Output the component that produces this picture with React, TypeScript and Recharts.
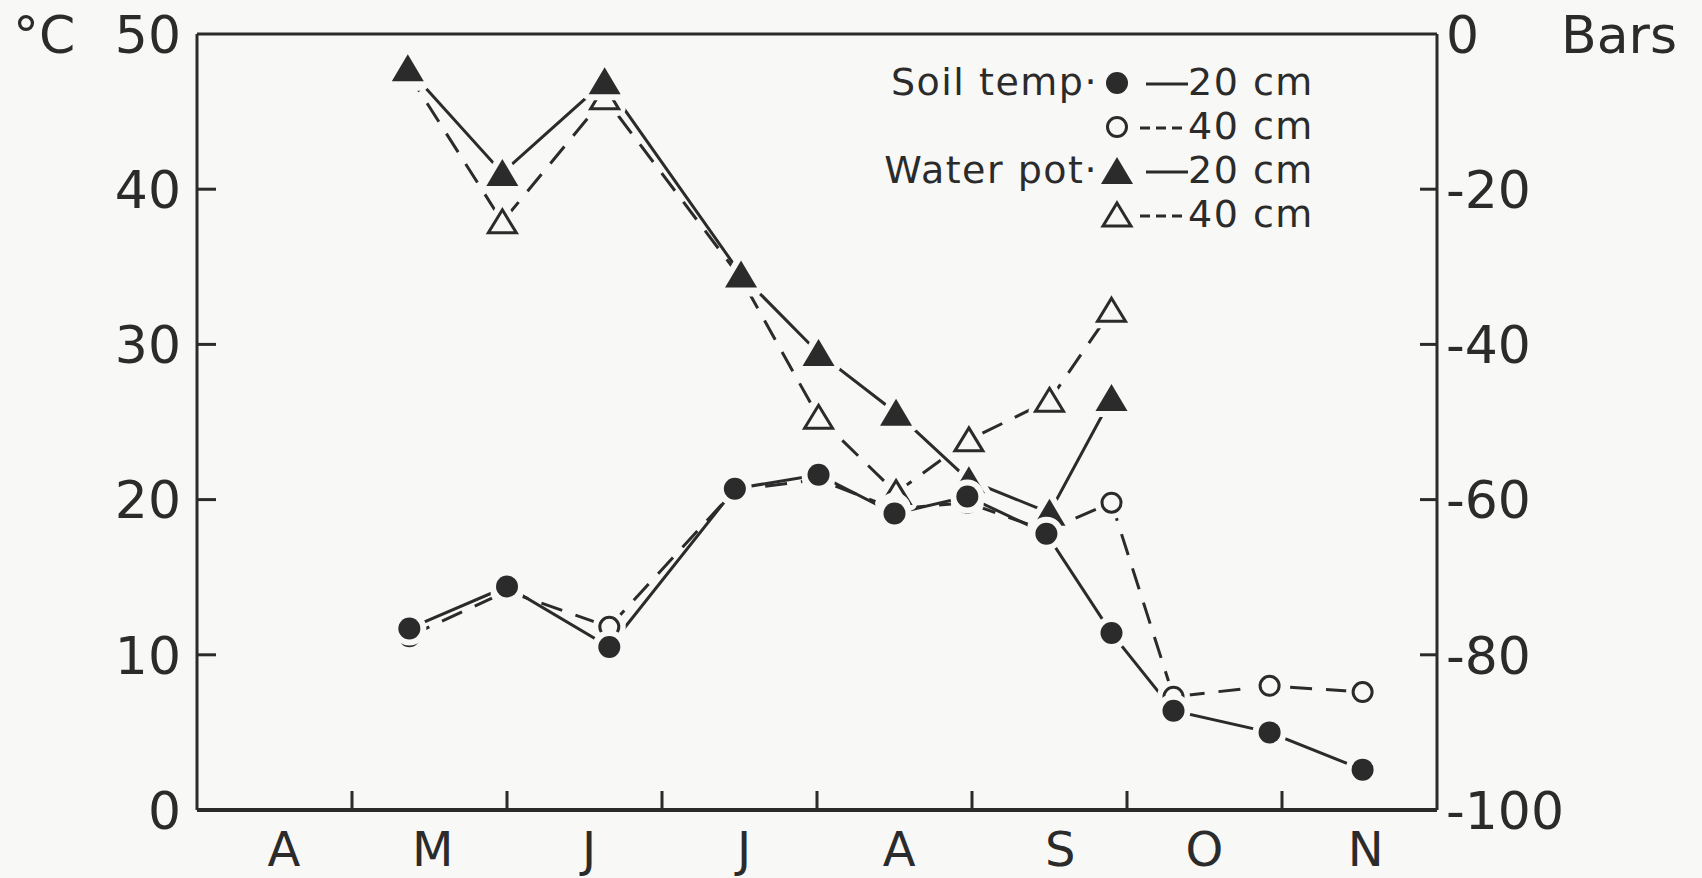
import { LineChart, Line, XAxis, YAxis, ReferenceLine, Legend } from "recharts";

const INK = "#2b2b2b";
const PAPER = "#f8f8f6";
const FONT = "'DejaVu Sans', 'Liberation Sans', sans-serif";

// x is measured in months from 1 April
const monthLabels = ["A", "M", "J", "J", "A", "S", "O", "N"];
const monthCentres = [0.56, 1.52, 2.53, 3.53, 4.53, 5.57, 6.5, 7.54];
const monthBounds = [1, 2, 3, 4, 5, 6, 7];
const tempTicks = [0, 10, 20, 30, 40, 50];
const barsTicks = [-100, -80, -60, -40, -20, 0];

const soilDates = [1.37, 2.0, 2.66, 3.47, 4.01, 4.5, 4.97, 5.48, 5.9, 6.3, 6.92, 7.52];
const soilTemp20 = [11.7, 14.4, 10.5, 20.7, 21.6, 19.1, 20.2, 17.8, 11.4, 6.4, 5.0, 2.6];
const soilTemp40 = [11.2, 14.1, 11.8, 20.6, 21.3, 19.4, 19.8, 18.0, 19.8, 7.3, 8.0, 7.6];

const waterDates = [1.36, 1.97, 2.63, 3.51, 4.01, 4.51, 4.98, 5.5, 5.9];
const waterPot20 = [-4.4, -17.9, -6.1, -31.0, -41.1, -48.8, -57.5, -61.7, -46.9];
const waterPot40 = [-5.0, -24.2, -8.2, -31.5, -49.4, -59.1, -52.3, -47.2, -35.6];

const soilData = soilDates.map((m, i) => ({ m, t20: soilTemp20[i], t40: soilTemp40[i] }));
const waterData = waterDates.map((m, i) => ({ m, w20: waterPot20[i], w40: waterPot40[i] }));
const xTicks = [...monthCentres, ...monthBounds].sort((a, b) => a - b);

const legendRows = [
  { group: "Soil temp·", depth: "20 cm", marker: "filledCircle", dashed: false },
  { group: "", depth: "40 cm", marker: "openCircle", dashed: true },
  { group: "Water pot·", depth: "20 cm", marker: "filledTriangle", dashed: false },
  { group: "", depth: "40 cm", marker: "openTriangle", dashed: true },
];

const DASH = "22 14";
const LABEL_SIZE = 52;

function markerShape(kind: string, cx: number, cy: number, halo = true) {
  if (kind === "filledCircle") {
    return <circle cx={cx} cy={cy} r={11} fill={INK} stroke={halo ? PAPER : "none"} strokeWidth={12} paintOrder="stroke" />;
  }
  if (kind === "openCircle") {
    return (
      <g>
        {halo && <circle cx={cx} cy={cy} r={9.5} fill={PAPER} stroke={PAPER} strokeWidth={14} />}
        <circle cx={cx} cy={cy} r={9.5} fill={PAPER} stroke={INK} strokeWidth={3} />
      </g>
    );
  }
  if (kind === "filledTriangle") {
    const pts = `${cx},${cy - 14} ${cx + 16},${cy + 13} ${cx - 16},${cy + 13}`;
    return <polygon points={pts} fill={INK} stroke={halo ? PAPER : "none"} strokeWidth={12} strokeLinejoin="round" paintOrder="stroke" />;
  }
  const pts = `${cx},${cy - 12} ${cx + 14},${cy + 11} ${cx - 14},${cy + 11}`;
  return (
    <g>
      {halo && <polygon points={pts} fill={PAPER} stroke={PAPER} strokeWidth={14} strokeLinejoin="round" />}
      <polygon points={pts} fill={PAPER} stroke={INK} strokeWidth={3} />
    </g>
  );
}

const dotOf = (kind: string) => (props: any) => {
  const { cx, cy, index } = props;
  return <g key={`${kind}-${index}`}>{markerShape(kind, cx, cy)}</g>;
};

// bottom axis: letters between month boundaries, short inward ticks at the boundaries
const MonthTick = ({ x, y, payload }: any) => {
  const v = payload.value;
  if (Number.isInteger(v)) {
    return <line x1={x} x2={x} y1={y} y2={y - 19} stroke={INK} strokeWidth={3} />;
  }
  return (
    <text x={x} y={y + 56} textAnchor="middle" fontFamily={FONT} fontSize={48} fill={INK}>
      {monthLabels[Math.floor(v)]}
    </text>
  );
};

const LeftTick = ({ x, y, payload }: any) => (
  <g>
    {payload.value > 0 && payload.value < 50 && <line x1={x} x2={x + 19} y1={y} y2={y} stroke={INK} strokeWidth={3} />}
    <text x={x - 16} y={y} dy="0.36em" textAnchor="end" fontFamily={FONT} fontSize={LABEL_SIZE} fill={INK}>
      {payload.value}
    </text>
  </g>
);

const RightTick = ({ x, y, payload }: any) => (
  <g>
    {payload.value > -100 && payload.value < 0 && <line x1={x} x2={x - 17} y1={y} y2={y} stroke={INK} strokeWidth={3} />}
    <text x={x + 9} y={y} dy="0.36em" textAnchor="start" fontFamily={FONT} fontSize={LABEL_SIZE} fill={INK}>
      {payload.value}
    </text>
  </g>
);

const UnitLabel = ({ viewBox, text, offsetX }: any) => (
  <text x={viewBox.x + offsetX} y={viewBox.y} dy="0.36em" fontFamily={FONT} fontSize={LABEL_SIZE} fill={INK}>
    {text}
  </text>
);

const LegendBox = () => (
  <div style={{ fontFamily: FONT, fontSize: 38, lineHeight: "44px", letterSpacing: 1.5, color: INK }}>
    {legendRows.map((r, i) => (
      <div key={i} style={{ display: "flex", alignItems: "center", height: 44 }}>
        <span style={{ width: 240, textAlign: "right", whiteSpace: "nowrap" }}>{r.group}</span>
        <svg width={38} height={44} style={{ display: "block" }}>{markerShape(r.marker, 19, 23, false)}</svg>
        <svg width={48} height={44} style={{ display: "block", marginLeft: 4 }}>
          <line x1={r.dashed ? 0 : 6} x2={48} y1={24} y2={24} stroke={INK} strokeWidth={3} strokeDasharray={r.dashed ? "10 6" : undefined} />
        </svg>
        <span style={{ whiteSpace: "nowrap" }}>{r.depth}</span>
      </div>
    ))}
  </div>
);

export default function App() {
  return (
    <div style={{ position: "absolute", left: 0, top: 0, width: 1702, height: 878, background: PAPER }}>
      <LineChart width={1702} height={878} margin={{ top: 34, right: 0, bottom: 0, left: 0 }}>
        <XAxis
          xAxisId="months"
          dataKey="m"
          type="number"
          domain={[0, 8]}
          allowDataOverflow
          ticks={xTicks}
          interval={0}
          tickLine={false}
          tickSize={0}
          tickMargin={0}
          height={68}
          tick={<MonthTick />}
          axisLine={{ stroke: INK, strokeWidth: 4 }}
        />
        <YAxis
          yAxisId="temp"
          orientation="left"
          type="number"
          domain={[0, 50]}
          allowDataOverflow
          ticks={tempTicks}
          interval={0}
          width={197}
          tickLine={false}
          tickSize={0}
          tickMargin={0}
          tick={<LeftTick />}
          axisLine={{ stroke: INK, strokeWidth: 3 }}
          label={<UnitLabel text="°C" offsetX={13} />}
        />
        <YAxis
          yAxisId="bars"
          orientation="right"
          type="number"
          domain={[-100, 0]}
          allowDataOverflow
          ticks={barsTicks}
          interval={0}
          width={265}
          tickLine={false}
          tickSize={0}
          tickMargin={0}
          tick={<RightTick />}
          axisLine={{ stroke: INK, strokeWidth: 3 }}
          label={<UnitLabel text="Bars" offsetX={124} />}
        />
        <ReferenceLine xAxisId="months" yAxisId="temp" y={50} stroke={INK} strokeWidth={3} />
        <Legend
          layout="vertical"
          align="center"
          verticalAlign="middle"
          content={() => <LegendBox />}
          wrapperStyle={{ left: 858, top: 60, width: 480 }}
        />
        <Line
          data={waterData}
          dataKey="w40"
          xAxisId="months"
          yAxisId="bars"
          stroke={INK}
          strokeWidth={3}
          strokeDasharray={DASH}
          dot={dotOf("openTriangle")}
          isAnimationActive={false}
        />
        <Line
          data={soilData}
          dataKey="t40"
          xAxisId="months"
          yAxisId="temp"
          stroke={INK}
          strokeWidth={3}
          strokeDasharray={DASH}
          dot={dotOf("openCircle")}
          isAnimationActive={false}
        />
        <Line
          data={waterData}
          dataKey="w20"
          xAxisId="months"
          yAxisId="bars"
          stroke={INK}
          strokeWidth={3}
          dot={dotOf("filledTriangle")}
          isAnimationActive={false}
        />
        <Line
          data={soilData}
          dataKey="t20"
          xAxisId="months"
          yAxisId="temp"
          stroke={INK}
          strokeWidth={3}
          dot={dotOf("filledCircle")}
          isAnimationActive={false}
        />
      </LineChart>
    </div>
  );
}
